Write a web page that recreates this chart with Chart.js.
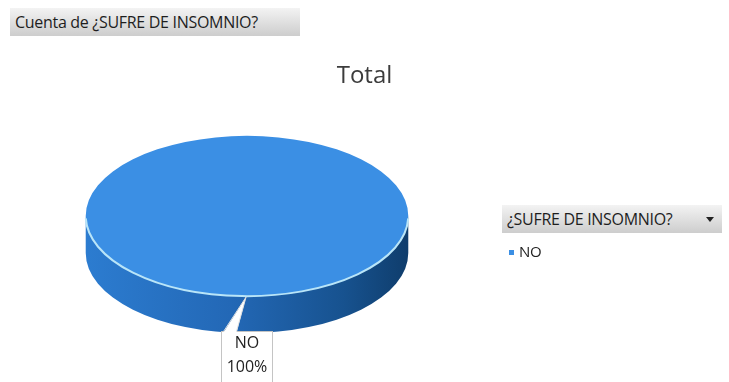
<!DOCTYPE html>
<html lang="es">
<head>
	<meta charset="UTF-8">
	<script src="https://cdn.jsdelivr.net/npm/chart.js"></script>
	<title>Cuenta de ¿SUFRE DE INSOMNIO?</title>
	<style>
		html, body { margin: 0; padding: 0; background: #fff; }
		#wrap { position: relative; width: 729px; height: 382px; overflow: hidden; font-family: "Open Sans", sans-serif; }
		#wrap canvas { position: absolute; left: 0; top: 0; }
		#chartTitle { position: absolute; left: 0; width: 729px; top: 62px; text-align: center; font-size: 24px; line-height: 24px; color: #3c3c3c; }
		.bar { position: absolute; box-sizing: border-box; padding-left: 5px; background: linear-gradient(#f3f3f3, #cdcdcd); color: #1e1e1e; font-size: 16px; letter-spacing: -0.3px; line-height: 28px; white-space: nowrap; }
		#fieldBar { left: 10px; top: 8px; width: 290px; height: 28px; }
		#legendBar { left: 502px; top: 205px; width: 220px; height: 28px; }
		#legendBar .arrow { position: absolute; right: 8px; top: 12px; border-left: 4px solid transparent; border-right: 4px solid transparent; border-top: 5px solid #222; }
		#legendItems { position: absolute; left: 509px; top: 241px; font-size: 15px; color: #222; letter-spacing: -0.3px; }
		#legendItems .sw { display: inline-block; width: 5px; height: 5px; margin-right: 5px; vertical-align: middle; }
	</style>
</head>
<body>
	<div id="wrap">
		<canvas id="myChart" width="729" height="382"></canvas>
		<div id="chartTitle"></div>
		<div class="bar" id="fieldBar">Cuenta de ¿SUFRE DE INSOMNIO?</div>
		<div class="bar" id="legendBar">¿SUFRE DE INSOMNIO?<span class="arrow"></span></div>
		<div id="legendItems"></div>
	</div>
	<script>
		// data: a single answer, 100%
		const categories = ['NO'];
		const shares = [100];
		const chartTitle = 'Total';

		// fake 3D: side wall under the pie, squash the top, callout label
		const pie3d = {
			id: 'pie3d',
			beforeDatasetDraw(chart, args, opts) {
				const ctx = chart.ctx;
				const arcs = args.meta.data;
				if (!arcs.length) return;
				const { x: cx, y: cy, outerRadius: r } = arcs[0];
				const rx = r * opts.stretchX, ry = rx * opts.tilt;

				const grad = ctx.createLinearGradient(cx - rx, 0, cx + rx, 0);
				opts.sideStops.forEach(([p, c]) => grad.addColorStop(p, c));
				arcs.forEach(arc => {
					for (let k = -1; k <= 2; k++) {
						const a = Math.max(arc.startAngle, 2 * Math.PI * k);
						const b = Math.min(arc.endAngle, 2 * Math.PI * k + Math.PI);
						if (b <= a) continue;
						ctx.beginPath();
						ctx.ellipse(cx, cy, rx, ry, 0, a, b);
						ctx.ellipse(cx, cy + opts.depth, rx, ry, 0, b, a, true);
						ctx.closePath();
						ctx.fillStyle = grad;
						ctx.fill();
					}
				});

				ctx.save();
				ctx.translate(cx, cy);
				ctx.scale(opts.stretchX, opts.stretchX * opts.tilt);
				ctx.translate(-cx, -cy);
			},
			afterDatasetDraw(chart, args, opts) {
				const ctx = chart.ctx;
				ctx.restore();
				const arcs = args.meta.data;
				if (!arcs.length) return;
				const { x: cx, y: cy, outerRadius: r } = arcs[0];
				const rx = r * opts.stretchX, ry = rx * opts.tilt;

				// light rim on the front edge
				ctx.beginPath();
				ctx.ellipse(cx, cy, rx, ry, 0, 0.03, Math.PI - 0.03);
				ctx.strokeStyle = opts.rimColor;
				ctx.lineWidth = 2;
				ctx.stroke();

				// callout labels
				const values = chart.data.datasets[args.index].data;
				const total = values.reduce((s, v) => s + v, 0);
				ctx.font = '16px "Open Sans"';
				arcs.forEach((arc, i) => {
					const mid = (arc.startAngle + arc.endAngle) / 2;
					const tipX = cx + rx * Math.cos(mid), tipY = cy + ry * Math.sin(mid);
					const lines = [chart.data.labels[i], Math.round(values[i] / total * 100) + '%'];
					const w = Math.round(Math.max(...lines.map(t => ctx.measureText(t).width)) + 10);
					const top = Math.round(tipY + opts.depth - 2) + 0.5;
					const left = Math.round(tipX - w / 2 - 1) + 0.5;

					ctx.fillStyle = '#fff';
					ctx.strokeStyle = '#c4c4c4';
					ctx.lineWidth = 1;
					ctx.fillRect(left, top, w, 60);
					ctx.strokeRect(left, top, w, 60);

					ctx.beginPath();
					ctx.moveTo(tipX - 1, tipY + 1);
					ctx.lineTo(left + 2, top + 1);
					ctx.lineTo(left + 15, top + 1);
					ctx.closePath();
					ctx.fill();
					ctx.beginPath();
					ctx.moveTo(left + 2, top);
					ctx.lineTo(tipX - 1, tipY + 1);
					ctx.lineTo(left + 15, top);
					ctx.strokeStyle = '#e0e0e0';
					ctx.stroke();

					ctx.fillStyle = '#222';
					ctx.textAlign = 'center';
					ctx.textBaseline = 'middle';
					ctx.fillText(lines[0], left + w / 2, top + 12);
					ctx.fillText(lines[1], left + w / 2, top + 36);
				});
			}
		};

		document.getElementById('chartTitle').textContent = chartTitle;

		const ctx = document.getElementById('myChart').getContext('2d');
		const chart = new Chart(ctx, {
			type: 'pie',
			data: {
				labels: categories,
				datasets: [{
					data: shares,
					backgroundColor: ['#3b8fe4'],
					borderWidth: 0,
					clip: false
				}]
			},
			plugins: [pie3d],
			options: {
				responsive: false,
				animation: false,
				events: [],
				layout: { padding: { left: 127, right: 362, top: 96, bottom: 46 } },
				plugins: {
					legend: { display: false },
					tooltip: { enabled: false },
					title: { display: false },
					pie3d: {
						stretchX: 1.344,
						tilt: 0.497,
						depth: 37,
						rimColor: '#b9e5f8',
						sideStops: [[0, '#2c7cd0'], [0.45, '#2368b6'], [0.8, '#17528f'], [1, '#0f3d6c']]
					}
				}
			}
		});

		// legend from the chart's own labels and colours
		const legendBox = document.getElementById('legendItems');
		chart.data.labels.forEach((label, i) => {
			const row = document.createElement('div');
			row.className = 'item';
			row.innerHTML = '<span class="sw" style="background:' + chart.data.datasets[0].backgroundColor[i] + '"></span>' + label;
			legendBox.appendChild(row);
		});
	</script>
</body>
</html>
